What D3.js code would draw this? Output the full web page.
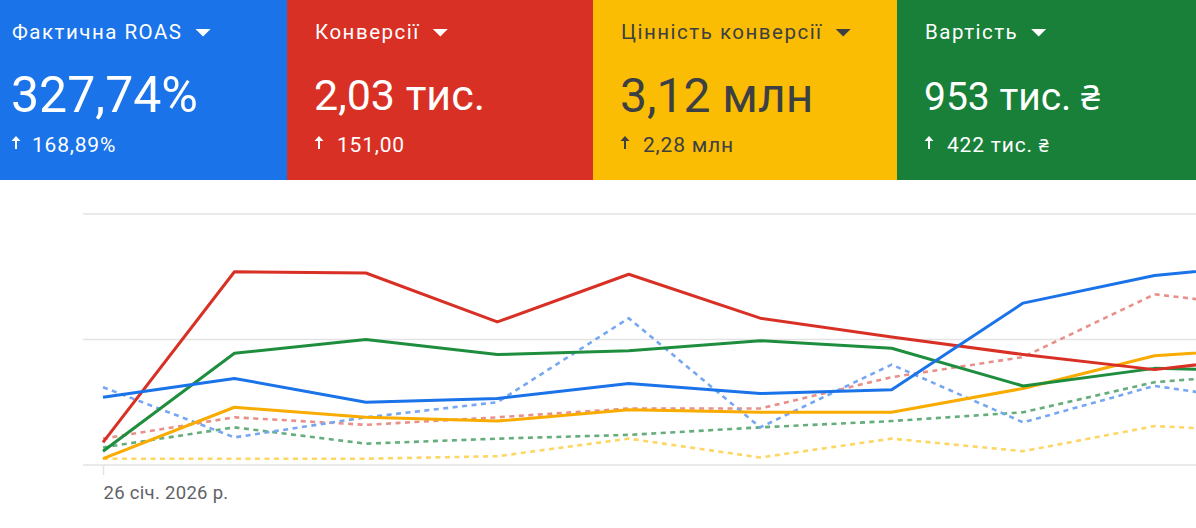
<!DOCTYPE html>
<html><head><meta charset="utf-8">
<script src="https://cdn.jsdelivr.net/npm/d3@7"></script>
<style>
html,body{margin:0;padding:0;background:#fff;overflow:hidden}
svg{display:block;font-family:Roboto,"Noto Sans",sans-serif}
</style></head><body>
<svg id="c" width="1196" height="528"></svg>
<script>
// ---- data ----
const cardTitles = ["Фактична ROAS", "Конверсії", "Цінність конверсії", "Вартість"];
const cardValues = ["327,74%", "2,03 тис.", "3,12 млн", "953 тис. ₴"];
const cardDeltas = ["168,89%", "151,00", "2,28 млн", "422 тис. ₴"];
const xLabels = ["26 січ. 2026 р.", "", "", "", "", "", "", "", "", ""];
const periods = d3.range(10);
// normalised values (each metric on its own hidden axis, 0..200)
const roas      = [54, 69, 50, 53, 65, 57, 60, 129, 151, 161];
const conv      = [18, 154, 153, 114, 152, 117, 102, 88, 76, 88];
const convValue = [5, 46, 38, 35, 44, 42, 42, 61, 87, 94];
const cost      = [11, 89, 100, 88, 91, 99, 93, 63, 77, 75];
const roasPrev      = [62, 22, 38, 50, 117, 30, 80, 34, 63, 48];
const convPrev      = [21, 38, 32, 38, 45, 45, 70, 86, 136, 124];
const convValuePrev = [5, 5, 5, 7, 21, 6, 21, 11, 31, 26];
const costPrev      = [14, 30, 17, 21, 24, 30, 35, 42, 66, 74];
const yTicks = [0, 100, 200];

const svg = d3.select("#c");

// ---- cards ----
const cardX = d3.scaleOrdinal().domain(d3.range(4)).range([0, 287, 593, 897]);
const cardW = [287, 306, 304, 299];
const cardBg = ["#1a73e8", "#d93025", "#fbbc04", "#188038"];
const cardFg = ["#ffffff", "#ffffff", "#3c4043", "#ffffff"];
const bigSize = [50, 43, 48, 39];

const cards = svg.selectAll("g.card").data(d3.range(4)).join("g")
  .attr("class", "card").attr("transform", i => `translate(${cardX(i)},0)`);
cards.append("rect").attr("width", i => cardW[i]).attr("height", 180).attr("fill", i => cardBg[i]);
cards.append("text").attr("class", "title").attr("x", i => i === 0 ? 12 : 28).attr("y", 39)
  .attr("font-size", 20.5).attr("letter-spacing", 1.5).attr("fill", i => cardFg[i]).text(i => cardTitles[i]);
cards.each(function(i){
  const g = d3.select(this);
  const b = g.select("text.title").node().getBBox();
  const tx = b.x + b.width + 13;
  g.append("path").attr("d", `M${tx},29 L${tx+15},29 L${tx+7.5},36.5 Z`).attr("fill", cardFg[i]);
});
function withCurrency(sel, size) {
  sel.each(function(i) {
    const t = d3.select(this);
    const parts = t.attr("data-s").split("₴");
    t.text(null);
    t.append("tspan").text(parts[0]);
    if (parts.length > 1) {
      t.append("tspan").attr("font-family", "'Noto Sans'").attr("font-size", size(i)).text("₴");
    }
  });
}
cards.append("text").attr("x", i => i === 0 ? 11 : 27).attr("y", i => i % 2 ? 110 : 112)
  .attr("font-size", i => bigSize[i]).attr("fill", i => cardFg[i])
  .attr("data-s", i => cardValues[i]).call(withCurrency, i => bigSize[i] * 0.88);
// up arrows
cards.append("path").attr("transform", i => `translate(${i === 0 ? 16 : 32},0)`)
  .attr("d", "M0,136 L-4.5,141 L-1,141 L-1,149 L1,149 L1,141 L4.5,141 Z")
  .attr("fill", i => cardFg[i]);
cards.append("text").attr("x", i => i === 0 ? 32 : 50).attr("y", 152)
  .attr("font-size", 21).attr("letter-spacing", 0.8).attr("fill", i => cardFg[i])
  .attr("data-s", i => cardDeltas[i]).call(withCurrency, () => 18);

// ---- chart ----
const x = d3.scalePoint().domain(periods).range([103, 1286]);
const y = d3.scaleLinear().domain([0, 200]).range([465, 214]);

svg.append("g").selectAll("line").data(yTicks).join("line")
  .attr("x1", 83).attr("x2", 1196).attr("y1", d => y(d)).attr("y2", d => y(d))
  .attr("stroke", "#e3e3e3").attr("stroke-width", 1.6);

const xAxis = d3.axisBottom(x).tickValues([0]).tickSize(10).tickFormat(i => xLabels[i]);
const ax = svg.append("g").attr("transform", `translate(0,${y(0)})`).call(xAxis);
ax.select(".domain").remove();
ax.selectAll(".tick line").attr("stroke", "#e3e3e3").attr("stroke-width", 1.5);
ax.selectAll(".tick text").attr("text-anchor", "start").attr("dy", 0).attr("y", 34)
  .attr("font-size", 18.5).attr("letter-spacing", 0.3).attr("fill", "#5f6368").attr("font-family", "Roboto");

const line = d3.line().x((d, i) => x(i)).y(d => y(d));
const series = [
  {v: convValuePrev, c: "#fdd663", dash: true},
  {v: costPrev, c: "#65ad7b", dash: true},
  {v: convPrev, c: "#e8908a", dash: true},
  {v: roasPrev, c: "#77a7f0", dash: true},
  {v: convValue, c: "#f9ab00", dash: false},
  {v: cost, c: "#1e8e3e", dash: false},
  {v: conv, c: "#d93025", dash: false},
  {v: roas, c: "#1a73e8", dash: false}
];
svg.append("g").selectAll("path").data(series).join("path")
  .attr("d", d => line(d.v)).attr("fill", "none").attr("stroke", d => d.c)
  .attr("stroke-width", d => d.dash ? 2.6 : 3)
  .attr("stroke-dasharray", d => d.dash ? "5,4.5" : null)
  .attr("stroke-linejoin", "round");
</script></body></html>
